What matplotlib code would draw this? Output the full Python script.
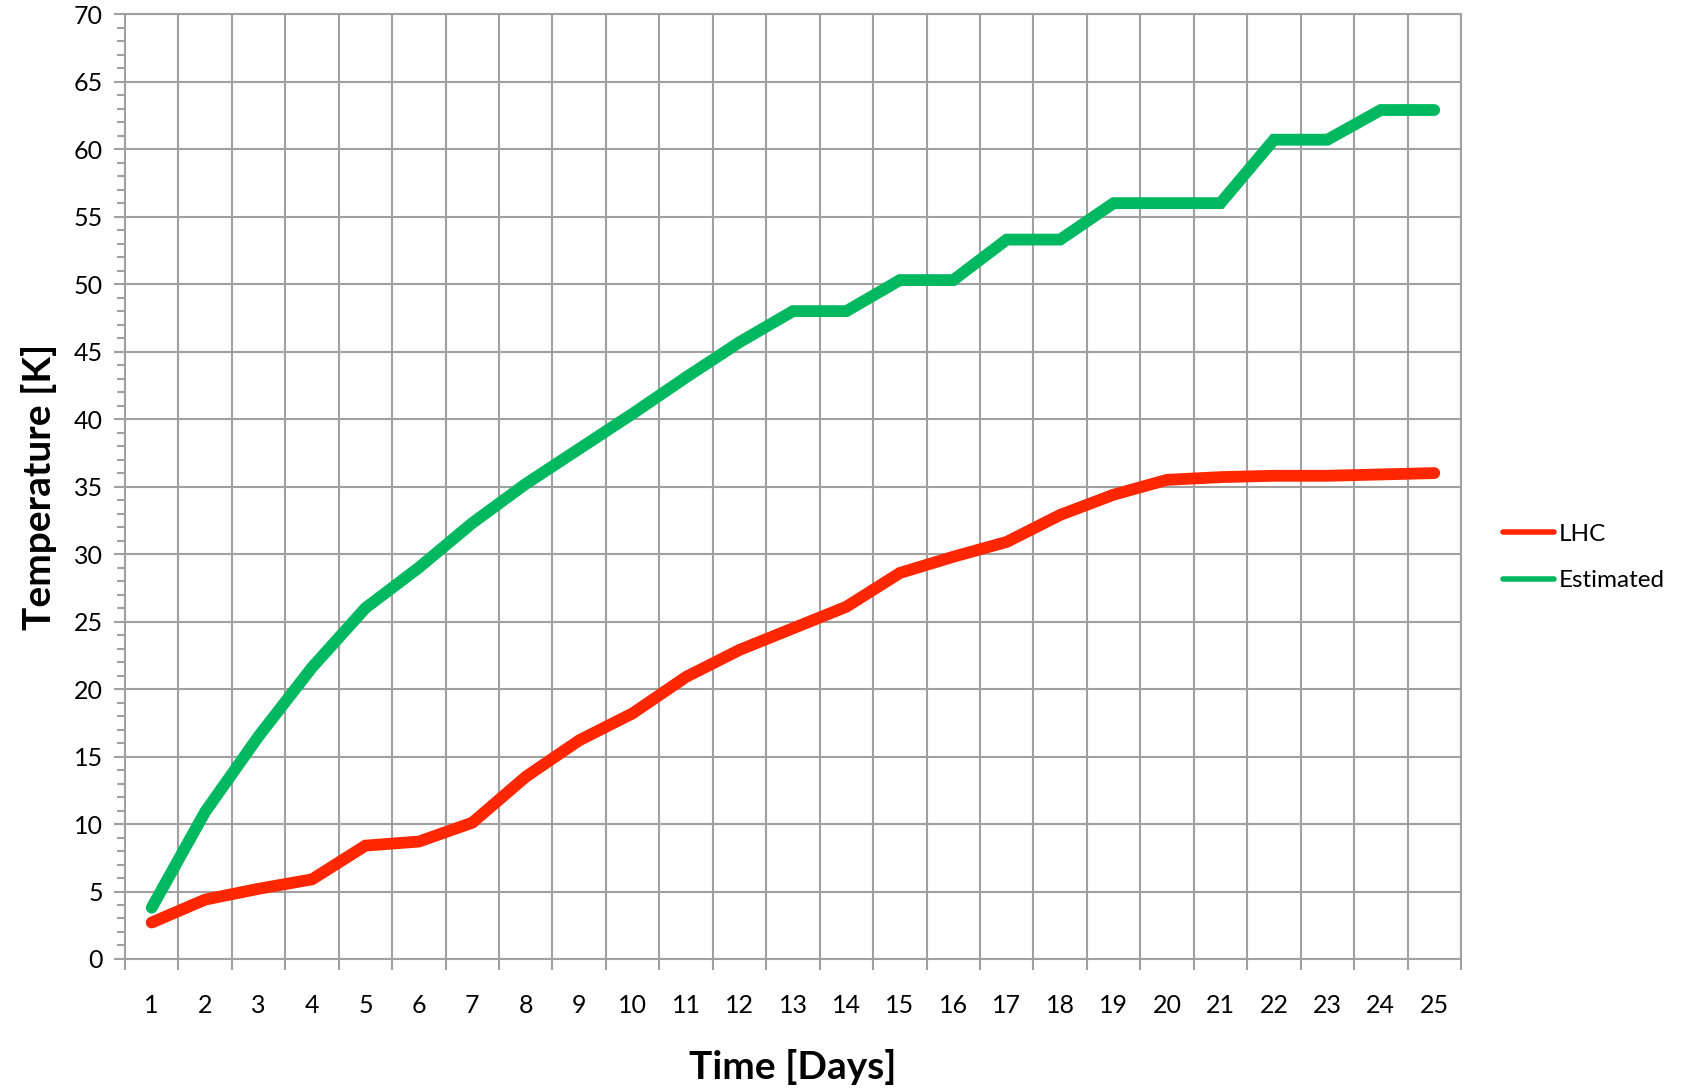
import numpy as np
import matplotlib
matplotlib.use('Agg')
import matplotlib.pyplot as plt
from matplotlib.ticker import MultipleLocator
from matplotlib.lines import Line2D

plt.rcParams['font.family'] = ['Lato', 'DejaVu Sans']

# data
days = list(range(1, 26))
lhc = [2.7, 4.4, 5.2, 5.9, 8.4, 8.7, 10.1, 13.5, 16.2, 18.2, 20.9, 22.9, 24.5,
       26.1, 28.6, 29.8, 30.9, 32.9, 34.4, 35.5, 35.7, 35.8, 35.8, 35.9, 36.0]
estimated = [3.8, 10.9, 16.5, 21.6, 26.0, 29.0, 32.3, 35.2, 37.8, 40.4, 43.1,
             45.7, 48.0, 48.0, 50.3, 50.3, 53.3, 53.3, 56.0, 56.0, 56.0,
             60.7, 60.7, 62.9, 62.9]

red = '#FF2600'
green = '#00B85F'
grid_c = '#A0A0A0'

fig = plt.figure(figsize=(16.82, 10.91), dpi=100)
ax = fig.add_axes([0.0743, 0.121, 0.7943, 0.866])

ax.plot(days, lhc, color=red, lw=8.5, solid_capstyle='round',
        solid_joinstyle='miter', zorder=3)
ax.plot(days, estimated, color=green, lw=8.5, solid_capstyle='round',
        solid_joinstyle='miter', zorder=3)

ax.set_xlim(0.5, 25.5)
ax.set_ylim(0, 70)
ax.set_xticks(days)
ax.set_xticks(np.arange(0.5, 26, 1), minor=True)
ax.yaxis.set_major_locator(MultipleLocator(5))
ax.yaxis.set_minor_locator(MultipleLocator(1))

# category boundaries carry the vertical grid, like Excel
ax.grid(True, which='minor', axis='x', color=grid_c, lw=1.5)
ax.grid(True, which='major', axis='y', color=grid_c, lw=1.5)
ax.set_axisbelow(True)

ax.tick_params(axis='x', which='major', length=0, labelsize=18, pad=25)
ax.tick_params(axis='x', which='minor', length=8, width=1.5, color=grid_c)
ax.tick_params(axis='y', which='major', length=8, width=1.5, color=grid_c,
               labelsize=18, pad=8)
ax.tick_params(axis='y', which='minor', length=6, width=1.5, color=grid_c)

for s in ax.spines.values():
    s.set_color(grid_c)
    s.set_linewidth(1.5)

ax.set_xlabel('Time [Days]', fontsize=28, fontweight='bold', labelpad=23)
ax.set_ylabel('Temperature [K]', fontsize=28, fontweight='bold', labelpad=12)

handles = [Line2D([], [], color=red, lw=4, solid_capstyle='round'),
           Line2D([], [], color=green, lw=4, solid_capstyle='round')]
fig.legend(handles, ['LHC', 'Estimated'], loc='center left',
           bbox_to_anchor=(0.888, 0.489), frameon=False, fontsize=17.5,
           handlelength=2.1, handletextpad=0.2, labelspacing=1.05,
           borderaxespad=0)

fig.savefig('out.png', dpi=100)
